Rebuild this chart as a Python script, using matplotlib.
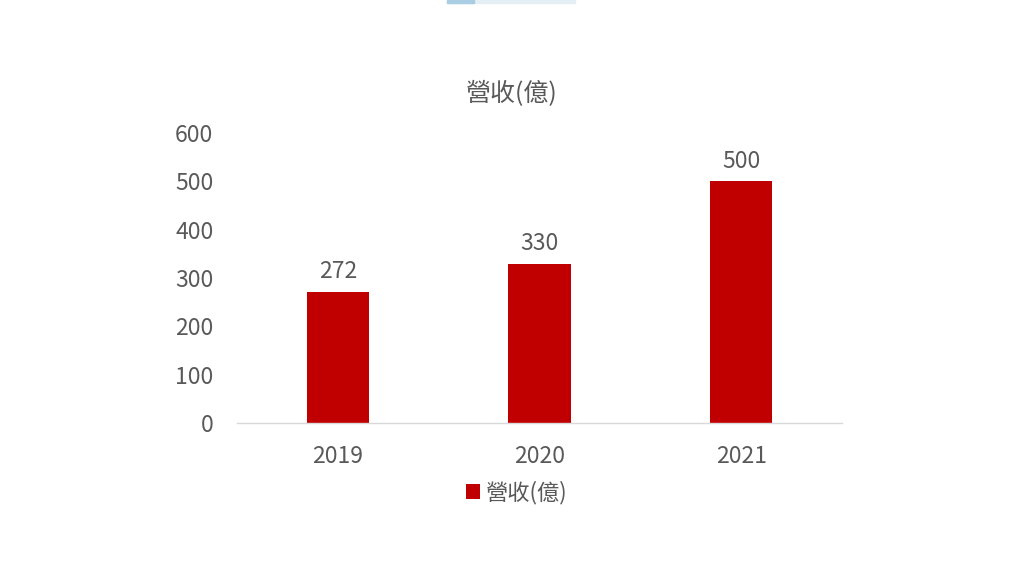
import matplotlib
matplotlib.use('Agg')
import matplotlib.pyplot as plt
from matplotlib.patches import Rectangle

plt.rcParams['font.family'] = ['Noto Sans CJK TC', 'DejaVu Sans']

years = ['2019', '2020', '2021']
revenue = [272, 330, 500]
series_name = '營收(億)'
title = '營收(億)'

bar_color = '#C00000'
text_color = '#595959'

fig = plt.figure(figsize=(10.24, 5.76), dpi=100)
ax = fig.add_axes([0.2314, 0.2656, 0.5908, 0.5035])

x = range(len(years))
bars = ax.bar(x, revenue, width=0.31, color=bar_color, label=series_name, zorder=2)
for xi, v in zip(x, revenue):
    ax.text(xi, v + 17, str(v), ha='center', va='bottom', fontsize=16.5, color=text_color)

ax.set_xlim(-0.5, 2.5)
ax.set_ylim(0, 600)
ax.set_yticks(range(0, 601, 100))
ax.set_xticks(list(x))
ax.set_xticklabels(years)
ax.tick_params(axis='both', length=0, labelsize=16.5, colors=text_color)
ax.tick_params(axis='x', pad=16)
ax.tick_params(axis='y', pad=17)
for s in ['top', 'right', 'left']:
    ax.spines[s].set_visible(False)
ax.spines['bottom'].set_color('#D9D9D9')
ax.spines['bottom'].set_linewidth(1)

fig.text(0.500, 0.837, title, ha='center', va='center', fontsize=18, color=text_color)

fig.legend(handles=[bars], labels=[series_name], loc='center', bbox_to_anchor=(0.505, 0.145),
           frameon=False, fontsize=16, labelcolor=text_color, handlelength=0.6, handleheight=0.6,
           handletextpad=0.3)

# thin light-blue strip at the top edge of the picture
fig.patches.append(Rectangle((447 / 1024, 1 - 3 / 576), 128 / 1024, 3 / 576,
                             transform=fig.transFigure, color='#E3EEF5', zorder=0))
fig.patches.append(Rectangle((447 / 1024, 1 - 3 / 576), 27 / 1024, 3 / 576,
                             transform=fig.transFigure, color='#A9CDE3', zorder=1))

fig.savefig('out.png', dpi=100)
